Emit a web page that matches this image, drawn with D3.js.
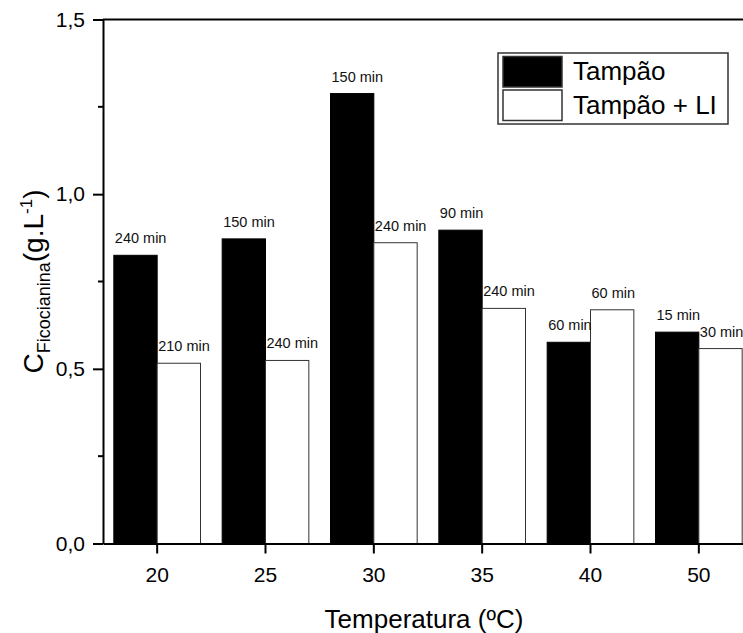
<!DOCTYPE html>
<html>
<head>
<meta charset="utf-8">
<script src="https://cdn.jsdelivr.net/npm/d3@7"></script>
<style>
  body { margin: 0; background: #fff; }
  svg { display: block; font-family: Arial, "Liberation Sans", sans-serif; }
</style>
</head>
<body>
<div id="chart"></div>
<script>
// values
const temperatures = ["20", "25", "30", "35", "40", "50"];
const seriesNames = ["Tampão", "Tampão + LI"];
const tampao = [0.825, 0.872, 1.288, 0.897, 0.576, 0.605];
const tampaoLI = [0.516, 0.524, 0.861, 0.673, 0.669, 0.558];
const tampaoTimes = ["240 min", "150 min", "150 min", "90 min", "60 min", "15 min"];
const tampaoLITimes = ["210 min", "240 min", "240 min", "240 min", "60 min", "30 min"];
const yTicks = [0, 0.5, 1.0, 1.5];
const yMinorTicks = [0.25, 0.75, 1.25];

// set dimensions and margins (plot runs past the right edge, like the source crop)
const totalWidth = 743, totalHeight = 633;
const margin = { top: 19.5, left: 103 };
const width = 650, height = 524;

const svg = d3.select("#chart")
  .append("svg")
    .attr("width", totalWidth)
    .attr("height", totalHeight);

const g = svg.append("g")
  .attr("transform", "translate(" + margin.left + "," + margin.top + ")");

// scales
const x = d3.scaleBand()
  .domain(temperatures)
  .range([0, width])
  .paddingInner(0.2)
  .paddingOuter(0.1);

const xSub = d3.scaleBand()
  .domain(seriesNames)
  .range([0, x.bandwidth()]);

const y = d3.scaleLinear()
  .domain([0, 1.5])
  .range([height, 0]);

const rows = temperatures.map((t, i) => ({
  temp: t,
  values: [
    { name: seriesNames[0], value: tampao[i], time: tampaoTimes[i] },
    { name: seriesNames[1], value: tampaoLI[i], time: tampaoLITimes[i] }
  ]
}));

const fills = { "Tampão": "#000", "Tampão + LI": "#fff" };

// bars
const groups = g.selectAll(".group")
  .data(rows)
  .enter().append("g")
    .attr("transform", d => "translate(" + x(d.temp) + ",0)");

groups.selectAll("rect")
  .data(d => d.values)
  .enter().append("rect")
    .attr("x", d => xSub(d.name))
    .attr("y", d => y(d.value))
    .attr("width", xSub.bandwidth())
    .attr("height", d => height - y(d.value))
    .attr("fill", d => fills[d.name])
    .attr("stroke", d => d.name === seriesNames[0] ? "#000" : "#333")
    .attr("stroke-width", 1);

// time labels above bars
groups.selectAll("text")
  .data(d => d.values)
  .enter().append("text")
    .attr("x", d => xSub(d.name) + 1)
    .attr("y", d => y(d.value) - 12)
    .attr("font-size", 14.5)
    .attr("fill", "#111")
    .text(d => d.time);

// frame top line
g.append("line")
  .attr("x1", 0).attr("x2", width)
  .attr("y1", 0).attr("y2", 0)
  .attr("stroke", "#000")
  .attr("stroke-width", 2);

// x axis
const xAxis = g.append("g")
  .attr("transform", "translate(0," + height + ")")
  .call(d3.axisBottom(x).tickSize(10).tickSizeOuter(0).tickPadding(14));
xAxis.select(".domain").attr("stroke-width", 2);
xAxis.selectAll(".tick line").attr("stroke-width", 2);
xAxis.selectAll("text")
  .attr("font-size", 21)
  .attr("font-family", "Arial, 'Liberation Sans', sans-serif")
  .attr("fill", "#000");

// y axis
const yAxis = g.append("g")
  .call(d3.axisLeft(y)
    .tickValues(yTicks)
    .tickSize(10)
    .tickSizeOuter(0)
    .tickPadding(8)
    .tickFormat(d => d3.format(".1f")(d).replace(".", ",")));
yAxis.select(".domain").attr("stroke-width", 2);
yAxis.selectAll(".tick line").attr("stroke-width", 2);
yAxis.selectAll("text")
  .attr("font-size", 21)
  .attr("font-family", "Arial, 'Liberation Sans', sans-serif")
  .attr("fill", "#000");

// minor y ticks
g.selectAll(".minor")
  .data(yMinorTicks)
  .enter().append("line")
    .attr("x1", -5).attr("x2", 0)
    .attr("y1", d => y(d)).attr("y2", d => y(d))
    .attr("stroke", "#000")
    .attr("stroke-width", 2);

// axis titles
svg.append("text")
  .attr("x", 424)
  .attr("y", 628)
  .attr("text-anchor", "middle")
  .attr("font-size", 26)
  .attr("fill", "#000")
  .text("Temperatura (ºC)");

const yTitle = svg.append("text")
  .attr("transform", "translate(43," + (margin.top + height / 2) + ") rotate(-90)")
  .attr("text-anchor", "middle")
  .attr("font-size", 28)
  .attr("fill", "#000");
yTitle.append("tspan").text("C");
yTitle.append("tspan").attr("font-size", 18).attr("dy", 7).text("Ficocianina");
yTitle.append("tspan").attr("dy", -7).text("(g.L");
yTitle.append("tspan").attr("font-size", 17).attr("dy", -11).text("-1");
yTitle.append("tspan").attr("dy", 11).text(")");

// legend
const legend = svg.append("g").attr("transform", "translate(498,53)");
legend.append("rect")
  .attr("width", 230).attr("height", 71)
  .attr("fill", "#fff")
  .attr("stroke", "#333")
  .attr("stroke-width", 1.5);

seriesNames.forEach((name, i) => {
  legend.append("rect")
    .attr("x", 5).attr("y", 3.5 + i * 33.5)
    .attr("width", 59).attr("height", 30.5)
    .attr("fill", fills[name])
    .attr("stroke", "#333")
    .attr("stroke-width", 1.5);
  legend.append("text")
    .attr("x", 75).attr("y", 27 + i * 33.5)
    .attr("font-size", 26)
    .attr("fill", "#000")
    .text(name);
});
</script>
</body>
</html>
